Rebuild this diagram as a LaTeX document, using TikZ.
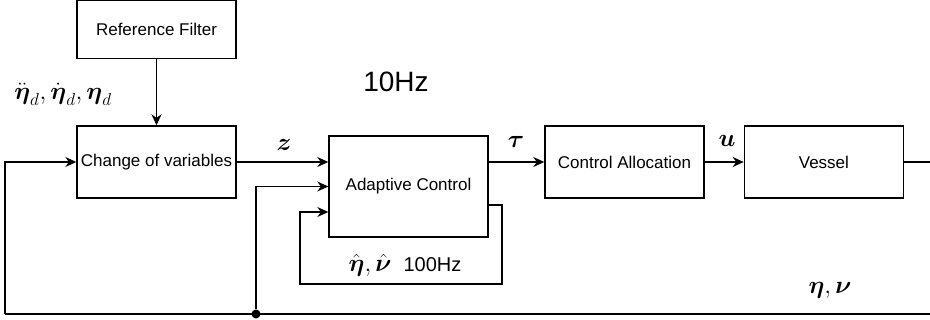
\documentclass[tikz,border=0pt]{standalone}
\usepackage{amsmath}
\usepackage{fontspec}
\setmainfont{Liberation Sans}
\usetikzlibrary{arrows.meta, positioning}

\begin{document}
\begin{tikzpicture}[x=1pt, y=-1pt,
  every node/.style={font=\fontsize{17}{20}\selectfont},
  block/.style={draw, line width=1.4pt, minimum width=159pt, minimum height=72pt, inner sep=0pt},
  wire/.style={line width=1.4pt},
  arr/.style={wire, -{Stealth[length=11pt, width=10pt]}},
  sym/.style={font=\fontsize{27}{30}\selectfont, inner sep=1pt},
  dot/.style={circle, fill, inner sep=0pt, minimum size=9pt},
]
  \useasboundingbox (0,0) rectangle (930,320);

  % blocks
  \node[block] (change) at (156.5,162) {Change of variables};
  \node[block, minimum height=58pt, above=66pt of change] (filter) {Reference Filter};
  \node[block, minimum height=101pt] (adaptive) at (408.5,186.5) {Adaptive Control};
  \node[block] (alloc) at (624.5,162) {Control Allocation};
  \node[block, right=39pt of alloc] (vessel) {Vessel};

  % free ends and corners
  \coordinate (out) at (930,162);
  \coordinate (fbR) at (930,314);
  \coordinate (fbL) at (5,314);
  \node[dot] (split) at (256,314) {};
  \coordinate (loopR) at (502,284);
  \coordinate (loopL) at (300,284);

  % signals
  \draw[arr] (filter) -- (change);
  \draw[arr] (change) -- (adaptive.west |- change.east);
  \draw[arr] (adaptive.east |- alloc.west) -- (alloc);
  \draw[arr] (alloc) -- (vessel);
  \draw[wire] (vessel) -- (out);
  \draw[wire] (fbR) -- (fbL);
  \draw[arr] (fbL) |- (change.west);
  \draw[arr] (split) |- (adaptive.west);
  \draw[arr] ([yshift=-18.5pt]adaptive.east) -| (loopR) -- (loopL) |- ([yshift=-25.5pt]adaptive.west);

  % labels
  \node[sym] (etad) at (63,94) {$\ddot{\boldsymbol{\eta}}_d, \dot{\boldsymbol{\eta}}_d, \boldsymbol{\eta}_d$};
  \node[font=\fontsize{28}{32}\selectfont] (slow) at (396,82) {10Hz};
  \node[sym] (zlbl) at (284,145) {$\boldsymbol{z}$};
  \node[sym] (taulbl) at (516,142) {$\boldsymbol{\tau}$};
  \node[sym] (ulbl) at (727,141) {$\boldsymbol{u}$};
  \node[sym] (statelbl) at (830,290) {$\boldsymbol{\eta}, \boldsymbol{\nu}$};
  \node[sym] (fast) at (405,265) {$\hat{\boldsymbol{\eta}}, \hat{\boldsymbol{\nu}}$\hspace{12pt}{\fontsize{20}{24}\selectfont 100Hz}};
\end{tikzpicture}
\end{document}
